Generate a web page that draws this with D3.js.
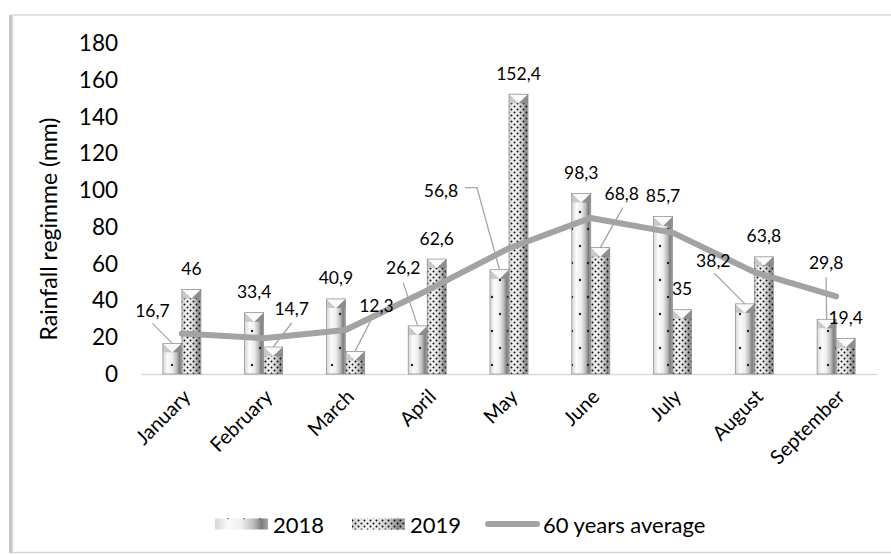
<!DOCTYPE html>
<html>
<head>
<meta charset="utf-8">
<script src="https://cdn.jsdelivr.net/npm/d3@7/dist/d3.min.js"></script>
<style>
  html, body { margin: 0; padding: 0; background: #ffffff; }
  svg { display: block; font-family: Lato, "Open Sans", sans-serif; }
</style>
</head>
<body>
<svg id="chart" width="891" height="555"></svg>
<script>
// Monthly rainfall (mm), two seasons, plus the 60-year mean
const months = ["January", "February", "March", "April", "May", "June", "July", "August", "September"];
const rain2018 = [16.7, 33.4, 40.9, 26.2, 56.8, 98.3, 85.7, 38.2, 29.8];
const rain2019 = [46, 14.7, 12.3, 62.6, 152.4, 68.8, 35, 63.8, 19.4];
const avg60 = [22, 19.5, 24, 45.5, 68.5, 85, 77, 55.5, 42.3];
const yTicks = [0, 20, 40, 60, 80, 100, 120, 140, 160, 180];
const seriesNames = ["2018", "2019", "60 years average"];

// Hand-placed data labels: offset of the label centre from the bar top,
// plus an optional leader path (points relative to the label centre).
const labelPlacement = {
  "2018-0": { dx: -20, dy: -33, leader: [[0, 13]] },
  "2019-1": { dx: 18.5, dy: -39, leader: [[0, 15]] },
  "2019-2": { dx: 21.5, dy: -46, leader: [[-2, 8]] },
  "2018-3": { dx: -14.5, dy: -58, leader: [[0, 15]] },
  "2018-4": { dx: -58.5, dy: -79, leader: [[24, -3], [36, -3]] },
  "2019-5": { dx: 21.5, dy: -54, leader: [[1, 14]] },
  "2018-7": { dx: -31.5, dy: -43.6, leader: [[1, 13]] },
  "2018-8": { dx: -0.5, dy: -57, leader: [[0, 15]] }
};

const svg = d3.select("#chart");
const defs = svg.append("defs");

// Cylinder-like horizontal shading for the bars
function gradient(id, stops) {
  const g = defs.append("linearGradient").attr("id", id)
    .attr("x1", "0").attr("y1", "0").attr("x2", "1").attr("y2", "0");
  stops.forEach(([o, c]) => g.append("stop").attr("offset", o).attr("stop-color", c));
}
gradient("shade2018", [[0, "#d6d6d6"], [0.25, "#fbfbfb"], [0.5, "#eeeeee"], [0.72, "#bdbdbd"], [0.88, "#7d7d7d"], [1, "#a9a9a9"]]);
gradient("shade2019", [[0, "#d0d0d0"], [0.25, "#f4f4f4"], [0.5, "#e6e6e6"], [0.72, "#c4c4c4"], [0.88, "#8a8a8a"], [1, "#b0b0b0"]]);

// Dot textures
const p18 = defs.append("pattern").attr("id", "dots2018")
  .attr("patternUnits", "userSpaceOnUse").attr("width", 16).attr("height", 34);
p18.append("circle").attr("cx", 4).attr("cy", 8).attr("r", 1.2).attr("fill", "#222");
p18.append("circle").attr("cx", 12).attr("cy", 25).attr("r", 1.2).attr("fill", "#222");
const p19 = defs.append("pattern").attr("id", "dots2019")
  .attr("patternUnits", "userSpaceOnUse").attr("width", 6).attr("height", 6);
p19.append("circle").attr("cx", 1.5).attr("cy", 1.5).attr("r", 1).attr("fill", "#111");
p19.append("circle").attr("cx", 4.5).attr("cy", 4.5).attr("r", 1).attr("fill", "#111");

// Chart frame with a soft left shadow
svg.append("rect").attr("x", 9).attr("y", 15).attr("width", 4).attr("height", 538).attr("fill", "#c4c4c4");
svg.append("rect").attr("x", 12.5).attr("y", 15).attr("width", 890).attr("height", 537.5)
  .attr("fill", "#ffffff").attr("stroke", "#d9d9d9").attr("stroke-width", 1.5);

// Scales
const x0 = d3.scaleBand().domain(months).range([141, 877]).paddingInner(0.535).paddingOuter(0.2675);
const x1 = d3.scaleBand().domain(["2018", "2019"]).range([0, x0.bandwidth()]);
const y = d3.scaleLinear().domain([0, 180]).range([374, 43.5]);

// Y axis: labels only
const yAxis = svg.append("g").attr("transform", "translate(124,0)")
  .call(d3.axisLeft(y).tickValues(yTicks).tickSize(0).tickPadding(6));
yAxis.select(".domain").remove();
yAxis.selectAll("text").attr("font-family", "Lato, sans-serif").attr("font-size", 22.5).attr("fill", "#000");

svg.append("text")
  .attr("transform", "translate(51,229) rotate(-90)")
  .attr("text-anchor", "middle").attr("dominant-baseline", "middle")
  .attr("font-size", 23).attr("fill", "#000").text("Rainfall regimme (mm)");

// X axis: baseline and rotated month names
const xAxis = svg.append("g").attr("transform", `translate(0,${y(0)})`)
  .call(d3.axisBottom(x0).tickSize(0).tickPadding(10));
xAxis.select(".domain").attr("stroke", "#d9d9d9").attr("stroke-width", 1.5);
xAxis.selectAll("text")
  .attr("font-family", "Lato, sans-serif").attr("font-size", 20).attr("fill", "#000")
  .attr("text-anchor", "end")
  .attr("transform", "translate(-2,12) rotate(-45)")
  .attr("dy", "0.35em");

// Bars
const series = [
  { key: "2018", values: rain2018, fill: "url(#shade2018)", tex: "url(#dots2018)" },
  { key: "2019", values: rain2019, fill: "url(#shade2019)", tex: "url(#dots2019)" }
];
const bars = svg.append("g");
series.forEach(s => {
  s.values.forEach((v, i) => {
    const bx = x0(months[i]) + x1(s.key);
    const bw = x1.bandwidth();
    const top = y(v), h = y(0) - y(v);
    const g = bars.append("g");
    g.append("rect").attr("x", bx).attr("y", top).attr("width", bw).attr("height", h).attr("fill", s.fill);
    g.append("rect").attr("x", bx).attr("y", top).attr("width", bw).attr("height", h).attr("fill", s.tex);
    // bevelled top
    const capH = Math.min(9, h / 2);
    const cx = bx + bw / 2;
    g.append("polygon").attr("points", `${bx},${top} ${cx},${top + capH} ${bx},${top + capH}`).attr("fill", "#c9c9c9");
    g.append("polygon").attr("points", `${bx + bw},${top} ${cx},${top + capH} ${bx + bw},${top + capH}`).attr("fill", "#8d8d8d");
    g.append("polygon").attr("points", `${bx},${top} ${bx + bw},${top} ${cx},${top + capH}`).attr("fill", "#fafafa");
    g.append("rect").attr("x", bx).attr("y", top).attr("width", bw).attr("height", h)
      .attr("fill", "none").attr("stroke", "#8a8a8a").attr("stroke-width", 0.7);
  });
});

// 60-year average line
const line = d3.line()
  .x((d, i) => x0(months[i]) + x0.bandwidth() / 2)
  .y(d => y(d));
svg.append("path").datum(avg60).attr("d", line)
  .attr("fill", "none").attr("stroke", "#a3a3a3").attr("stroke-width", 6)
  .attr("stroke-linecap", "round").attr("stroke-linejoin", "round");

// Data labels with leader lines
const fmt = v => String(v).replace(".", ",");
const labels = svg.append("g");
series.forEach(s => {
  s.values.forEach((v, i) => {
    const cx = x0(months[i]) + x1(s.key) + x1.bandwidth() / 2;
    const top = y(v);
    const p = labelPlacement[`${s.key}-${i}`] || { dx: 0, dy: -21 };
    const lx = cx + p.dx, ly = top + p.dy;
    if (p.leader) {
      const pts = p.leader.map(([a, b]) => [lx + a, ly + b]);
      pts.push([cx, top]);
      labels.append("path").attr("d", d3.line()(pts))
        .attr("fill", "none").attr("stroke", "#a6a6a6").attr("stroke-width", 1.3);
    }
    labels.append("text").attr("x", lx).attr("y", ly)
      .attr("text-anchor", "middle").attr("dominant-baseline", "central")
      .attr("font-size", 17.5).attr("fill", "#000").text(fmt(v));
  });
});

// Legend
const legend = svg.append("g").attr("font-size", 22);
const ly0 = 524;
[["2018", 215], ["2019", 352]].forEach(([k, lx], j) => {
  const s = series[j];
  legend.append("rect").attr("x", lx).attr("y", ly0 - 5.5).attr("width", 53).attr("height", 11).attr("fill", s.fill);
  legend.append("rect").attr("x", lx).attr("y", ly0 - 5.5).attr("width", 53).attr("height", 11).attr("fill", s.tex);
  legend.append("text").attr("x", lx + 58).attr("y", ly0).attr("dominant-baseline", "central").text(k);
});
legend.append("line").attr("x1", 488).attr("x2", 537).attr("y1", ly0).attr("y2", ly0)
  .attr("stroke", "#a3a3a3").attr("stroke-width", 6).attr("stroke-linecap", "round");
legend.append("text").attr("x", 543).attr("y", ly0).attr("dominant-baseline", "central").text(seriesNames[2]);
</script>
</body>
</html>
